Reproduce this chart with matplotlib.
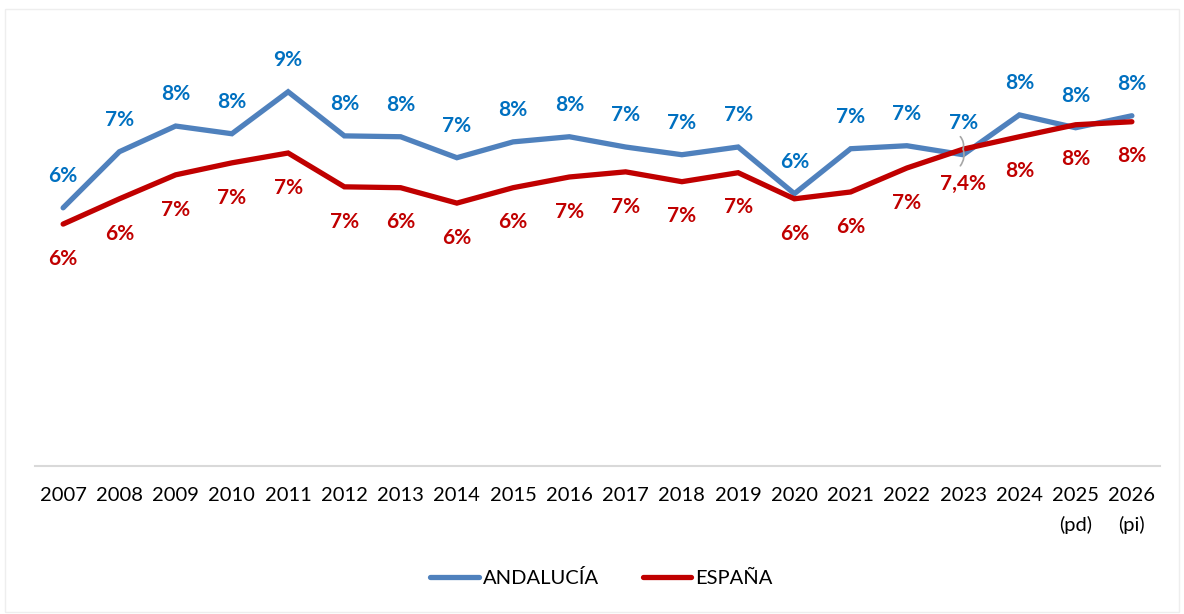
import matplotlib.pyplot as plt
from matplotlib.patches import Rectangle

# ── Data ─────────────────────────────────────────────────────────────────────
years = ["2007", "2008", "2009", "2010", "2011", "2012", "2013", "2014",
         "2015", "2016", "2017", "2018", "2019", "2020", "2021", "2022",
         "2023", "2024", "2025\n(pd)", "2026\n(pi)"]

andalucia = [6.03, 7.34, 7.94, 7.76, 8.74, 7.71, 7.69, 7.20, 7.57, 7.69,
             7.45, 7.27, 7.45, 6.36, 7.41, 7.48, 7.27, 8.20, 7.90, 8.18]
espana = [5.65, 6.24, 6.80, 7.08, 7.31, 6.52, 6.50, 6.14, 6.50, 6.75,
          6.87, 6.64, 6.85, 6.24, 6.40, 6.96, 7.40, 7.69, 7.97, 8.04]

and_labels = ["6%", "7%", "8%", "8%", "9%", "8%", "8%", "7%", "8%", "8%",
              "7%", "7%", "7%", "6%", "7%", "7%", "7%", "8%", "8%", "8%"]
esp_labels = ["6%", "6%", "7%", "7%", "7%", "7%", "6%", "6%", "6%", "7%",
              "7%", "7%", "7%", "6%", "6%", "7%", "7,4%", "8%", "8%", "8%"]

BLUE_LINE = "#4F81BD"
BLUE_TEXT = "#0070C0"
RED = "#C00000"

plt.rcParams["font.family"] = ["Lato", "DejaVu Sans"]

fig = plt.figure(figsize=(11.84, 6.14), dpi=100)
ax = fig.add_axes([35 / 1184, 148 / 614, 1125 / 1184, 456 / 614])

# faint outer frame
fig.patches.append(Rectangle((5 / 1184, 0.003), 1174 / 1184, 1 - 9 / 614 - 0.003,
                             transform=fig.transFigure, fill=False,
                             edgecolor="#EEEEEE", linewidth=1))

x = range(len(years))
ax.plot(x, andalucia, color=BLUE_LINE, linewidth=3.8, label="ANDALUCÍA",
        solid_capstyle="round", solid_joinstyle="miter")
ax.plot(x, espana, color=RED, linewidth=3.8, label="ESPAÑA",
        solid_capstyle="round", solid_joinstyle="miter")

# data labels
for xi, y, lab in zip(x, andalucia, and_labels):
    ax.annotate(lab, (xi, y), textcoords="offset points", xytext=(0, 23),
                ha="center", va="center", fontsize=15, fontweight="bold",
                color=BLUE_TEXT)
for xi, y, lab in zip(x, espana, esp_labels):
    ax.annotate(lab, (xi, y), textcoords="offset points", xytext=(0, -25),
                ha="center", va="center", fontsize=15, fontweight="bold",
                color=RED)

# small leader mark at 2023
for dy in (9, -12):
    ax.annotate("", xy=(16, espana[16]), xytext=(-2, dy), textcoords="offset points",
                arrowprops=dict(arrowstyle="-", color="#A6A6A6", lw=1.2,
                                shrinkA=0, shrinkB=0,
                                connectionstyle="arc3,rad=%s" % (-0.25 if dy > 0 else 0.25)))

ax.set_xlim(-0.5, len(years) - 0.5)
ax.set_ylim(0, 10.65)
ax.set_xticks(list(x))
ax.set_xticklabels(years, fontsize=14.5, linespacing=1.8, va="top")
ax.set_yticks([])
ax.tick_params(axis="x", length=0, pad=15)
for side in ("top", "right", "left"):
    ax.spines[side].set_visible(False)
ax.spines["bottom"].set_color("#D9D9D9")
ax.spines["bottom"].set_linewidth(1.5)

fig.legend(loc="center", bbox_to_anchor=(0.508, 1 - 578 / 614), ncol=2,
           frameon=False, fontsize=14.5, handlelength=2.4, handletextpad=0.2,
           columnspacing=2.2)

fig.savefig("out.png", dpi=100)
